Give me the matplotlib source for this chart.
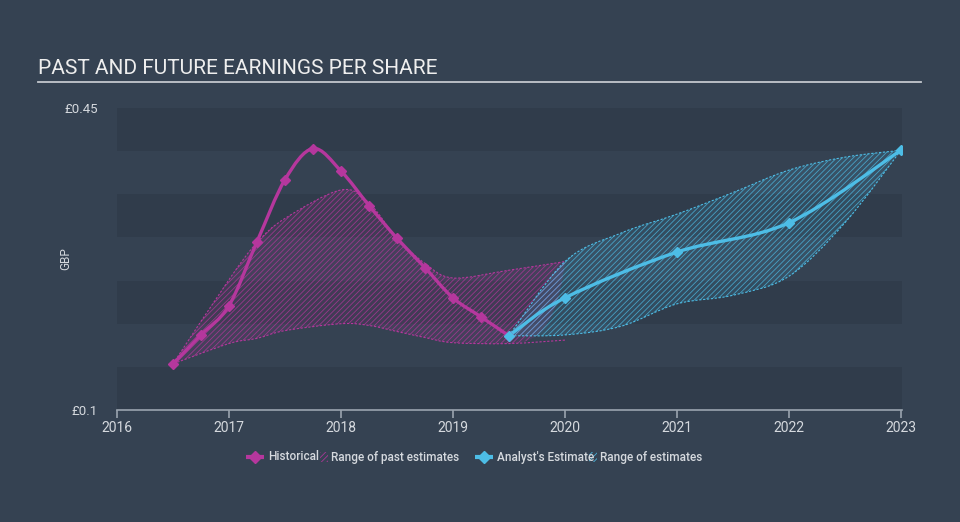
import numpy as np
import matplotlib
matplotlib.use("Agg")
import matplotlib.pyplot as plt
from matplotlib.path import Path
from matplotlib.patches import PathPatch, Rectangle
from matplotlib.lines import Line2D
from matplotlib.colors import to_rgba

# historical EPS (GBP), quarterly
hist_x = [2016.5, 2016.75, 2017.0, 2017.25, 2017.5, 2017.75, 2018.0,
          2018.25, 2018.5, 2018.75, 2019.0, 2019.25, 2019.5]
hist_y = [0.1535, 0.187, 0.221, 0.295, 0.367, 0.403, 0.377,
          0.337, 0.299, 0.265, 0.230, 0.208, 0.186]

# range of past estimates
past_x = [2016.5, 2017.0, 2017.25, 2017.5, 2018.0, 2018.25, 2018.5, 2018.75, 2019.0, 2019.5, 2020.0]
past_hi = [0.1535, 0.251, 0.294, 0.322, 0.355, 0.340, 0.299, 0.270, 0.253, 0.262, 0.272]
past_lo = [0.1535, 0.177, 0.183, 0.192, 0.200, 0.198, 0.191, 0.184, 0.178, 0.177, 0.181]

# analyst estimates
est_x = [2019.5, 2020.0, 2021.0, 2022.0, 2023.0]
est_y = [0.186, 0.230, 0.283, 0.317, 0.401]

# range of estimates
rng_x = [2019.5, 2020.0, 2020.5, 2021.0, 2021.5, 2022.0, 2022.5, 2023.0]
rng_hi = [0.186, 0.272, 0.305, 0.327, 0.352, 0.378, 0.393, 0.401]
rng_lo = [0.186, 0.187, 0.197, 0.223, 0.233, 0.255, 0.317, 0.401]

years = [2016, 2017, 2018, 2019, 2020, 2021, 2022, 2023]

BG = "#354252"
BAND = "#303c4b"
MAGENTA = "#b5379d"
CYAN = "#4dbde6"
TXT = "#d5d9de"


def smooth_verts(xs, ys):
    # cubic bezier (catmull-rom style) through the given points
    p = np.column_stack([xs, ys])
    verts = [tuple(p[0])]
    codes = [Path.MOVETO]
    n = len(p)
    for i in range(n - 1):
        p0 = p[max(i - 1, 0)]
        p1 = p[i]
        p2 = p[i + 1]
        p3 = p[min(i + 2, n - 1)]
        c1 = p1 + (p2 - p0) / 6.0
        c2 = p2 - (p3 - p1) / 6.0
        verts += [tuple(c1), tuple(c2), tuple(p2)]
        codes += [Path.CURVE4] * 3
    return verts, codes


def range_patch(ax, xs, hi, lo, color):
    v1, c1 = smooth_verts(xs, hi)
    v2, c2 = smooth_verts(xs[::-1], lo[::-1])
    verts = v1 + v2[1:] + [v1[0]]
    codes = c1 + c2[1:] + [Path.CLOSEPOLY]
    fill = PathPatch(Path(verts, codes), facecolor=to_rgba(color, 0.13),
                     edgecolor=to_rgba(color, 0.75), hatch="//////",
                     linewidth=0, zorder=2)
    ax.add_patch(fill)
    for v, c in ((v1, c1), (v2, c2)):
        ax.add_patch(PathPatch(Path(v, c), facecolor="none", edgecolor=color,
                               linewidth=0.8, linestyle=(0, (2, 1.5)), zorder=3))


def smooth_line(ax, xs, ys, color):
    v, c = smooth_verts(xs, ys)
    ax.add_patch(PathPatch(Path(v, c), facecolor="none", edgecolor=color,
                           linewidth=2.4, capstyle="round", zorder=4))
    ax.plot(xs, ys, linestyle="none", marker="D", markersize=5.5, color=color, zorder=5)


plt.rcParams["font.family"] = ["Roboto", "DejaVu Sans"]
plt.rcParams["hatch.linewidth"] = 0.6

fig = plt.figure(figsize=(9.6, 5.22), dpi=100, facecolor=BG)
ax = fig.add_axes([117 / 960, 1 - 410 / 522, (902 - 117) / 960, (410 - 108) / 522])
ax.set_facecolor(BG)
ax.set_xlim(2016, 2023.01)
ax.set_ylim(0.1, 0.45)

# alternating bands
for k, b in enumerate(np.arange(0.1, 0.45, 0.05)):
    if k % 2 == 0:
        ax.axhspan(b, b + 0.05, color=BAND, zorder=0, linewidth=0)

range_patch(ax, past_x, past_hi, past_lo, MAGENTA)
range_patch(ax, rng_x, rng_hi, rng_lo, CYAN)
smooth_line(ax, hist_x, hist_y, MAGENTA)
smooth_line(ax, est_x, est_y, CYAN)

for s in ("top", "right", "left"):
    ax.spines[s].set_visible(False)
ax.spines["bottom"].set_color("#9aa4af")
ax.spines["bottom"].set_linewidth(1.2)
ax.set_xticks(years)
ax.set_xticklabels([str(y) for y in years])
ax.tick_params(axis="x", colors="#9aa4af", length=6, width=1.2, labelcolor=TXT,
               labelsize=10, pad=2)
ax.set_yticks([0.1, 0.45])
ax.set_yticklabels(["£0.1", "£0.45"])
ax.tick_params(axis="y", length=0, labelcolor=TXT, labelsize=9.5, pad=14)
ax.set_ylabel("GBP", color=TXT, fontsize=8.5)
ax.yaxis.set_label_coords(-(117 - 72) / 785, 0.5)

# title and underline
fig.text(38 / 960, 1 - 69 / 522, "PAST AND FUTURE EARNINGS PER SHARE", color="#eeeeee",
         fontsize=15, va="center", ha="left")
fig.add_artist(Line2D([38 / 960, 921 / 960], [1 - 82 / 522] * 2, color="#c3c8ce", linewidth=1.3))

# legend
ly = 1 - 457 / 522
fsz = 8.5


def legend_line(x0, x1, color):
    fig.add_artist(Line2D([x0 / 960, x1 / 960], [ly, ly], color=color, linewidth=3,
                          solid_capstyle="butt"))
    fig.add_artist(Line2D([(x0 + x1) / 2 / 960], [ly], color=color, marker="D",
                          markersize=6.5, linestyle="none"))


def legend_hatch(x0, color):
    fig.add_artist(Rectangle((x0 / 960, ly - 5 / 522), 8 / 960, 10 / 522,
                             transform=fig.transFigure, facecolor=(0, 0, 0, 0),
                             edgecolor=to_rgba(color, 0.9), hatch="//////", linewidth=0))


legend_line(246, 264, MAGENTA)
fig.text(268 / 960, ly, "Historical", color=TXT, fontsize=fsz, va="center", weight="medium")
legend_hatch(320, MAGENTA)
fig.text(331 / 960, ly, "Range of past estimates", color=TXT, fontsize=fsz, va="center",
         weight="medium")
legend_line(475, 493, CYAN)
fig.text(497 / 960, ly, "Analyst's Estimate", color=TXT, fontsize=fsz, va="center",
         weight="medium")
legend_hatch(589, CYAN)
fig.text(600 / 960, ly, "Range of estimates", color=TXT, fontsize=fsz, va="center",
         weight="medium")

fig.savefig("out.png", dpi=100, facecolor=BG)
